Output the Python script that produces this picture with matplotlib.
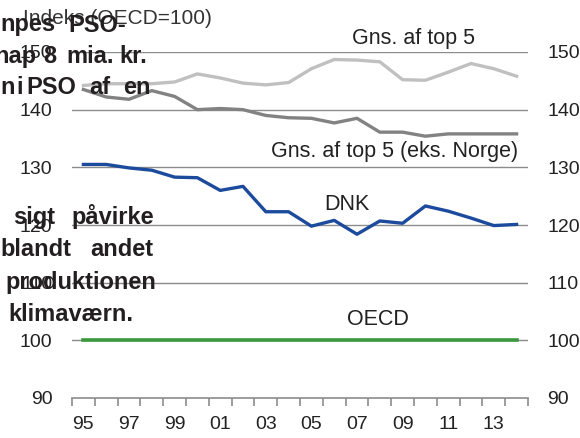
import matplotlib
matplotlib.use("Agg")
import matplotlib.pyplot as plt
import numpy as np

plt.rcParams['font.family'] = ['Liberation Sans', 'DejaVu Sans']

# data (index, OECD = 100)
years = ['95', '96', '97', '98', '99', '00', '01', '02', '03', '04',
         '05', '06', '07', '08', '09', '10', '11', '12', '13', '14']
top5 = [144.2, 144.5, 144.5, 144.5, 144.8, 146.2, 145.5, 144.6, 144.3, 144.7,
        147.1, 148.7, 148.6, 148.3, 145.2, 145.1, 146.5, 148.0, 147.1, 145.8]
top5_ex_nor = [143.5, 142.2, 141.8, 143.3, 142.3, 140.0, 140.2, 140.0, 139.0, 138.6,
               138.5, 137.7, 138.5, 136.1, 136.1, 135.4, 135.8, 135.8, 135.8, 135.8]
dnk = [130.5, 130.5, 129.9, 129.5, 128.3, 128.2, 126.0, 126.7, 122.3, 122.3,
       119.8, 120.8, 118.4, 120.7, 120.3, 123.3, 122.4, 121.2, 119.9, 120.1]
oecd = [100] * 20
yticks = [90, 100, 110, 120, 130, 140, 150]

txt = '#222222'
grid = '#8c8c8c'

fig = plt.figure(figsize=(5.8, 4.38), dpi=100)
ax = fig.add_axes([72/580, 1 - 398/438, 456/580, 346/438])

x = np.arange(len(years))
ax.plot(x, top5, color='#c0c0c0', lw=2.4, clip_on=False, zorder=3)
ax.plot(x, top5_ex_nor, color='#828282', lw=2.4, clip_on=False, zorder=3)
ax.plot(x, dnk, color='#1c4a9c', lw=2.4, clip_on=False, zorder=4)
ax.plot(x, oecd, color='#3a983e', lw=2.6, clip_on=False, zorder=4)

ax.set_xlim(-0.5, len(years) - 0.5)
ax.set_ylim(90, 150)
ax.set_yticks(yticks)
for v in yticks[1:]:
    ax.axhline(v, color=grid, lw=1, zorder=1)

for s in ['top', 'left', 'right']:
    ax.spines[s].set_visible(False)
ax.spines['bottom'].set_color(grid)
ax.spines['bottom'].set_linewidth(1.2)

# category axis: tick marks between categories, labels every other year
ax.set_xticks(np.arange(len(years) + 1) - 0.5, minor=True)
ax.set_xticks(x[::2])
ax.set_xticklabels(years[::2])
ax.tick_params(axis='x', which='minor', length=6, width=1.2, color=grid, direction='out')
ax.tick_params(axis='x', which='major', length=0, pad=13, labelsize=14, labelcolor=txt)
ax.tick_params(axis='y', length=0, labelsize=14, labelcolor=txt, pad=14,
               labelleft=True, labelright=True)

# series labels
ax.text(14.5, 152.4, 'Gns. af top 5', ha='center', va='center', fontsize=15.5, color=txt)
ax.text(13.64, 132.7, 'Gns. af top 5 (eks. Norge)', ha='center', va='center', fontsize=15.5, color=txt)
ax.text(11.55, 123.6, 'DNK', ha='center', va='center', fontsize=15.5, color=txt)
ax.text(12.9, 103.55, 'OECD', ha='center', va='center', fontsize=15.5, color=txt)

fig.text(23/580, 1 - 24.5/438, 'Indeks (OECD=100)', ha='left', va='baseline', fontsize=15, color='#333333')

# overlapping body text from the source page (justified, cut at the left edge)
# each word: (text, left x px, baseline y px)
words = [('npes', 0, 31.5), ('PSO-', 68, 31.5),
         ('nap', -6, 63), ('8', 43, 63), ('mia.', 66, 63), ('kr.', 119, 63),
         ('n', 0, 94.5), ('i', 16, 94.5), ('PSO', 26, 94.5), ('af', 89, 94.5), ('en', 123, 94.5),
         ('sigt', 13, 224), ('påvirke', 71, 224),
         ('blandt', 0, 256), ('andet', 90, 256),
         ('produktionen', 5, 289),
         ('klimaværn.', 8, 321)]
for s, xl, yb in words:
    fig.text(xl/580, 1 - yb/438, s, ha='left', va='baseline', fontsize=17,
             fontweight='bold', color='#231f20', zorder=10)

fig.savefig('out.png', dpi=100)
